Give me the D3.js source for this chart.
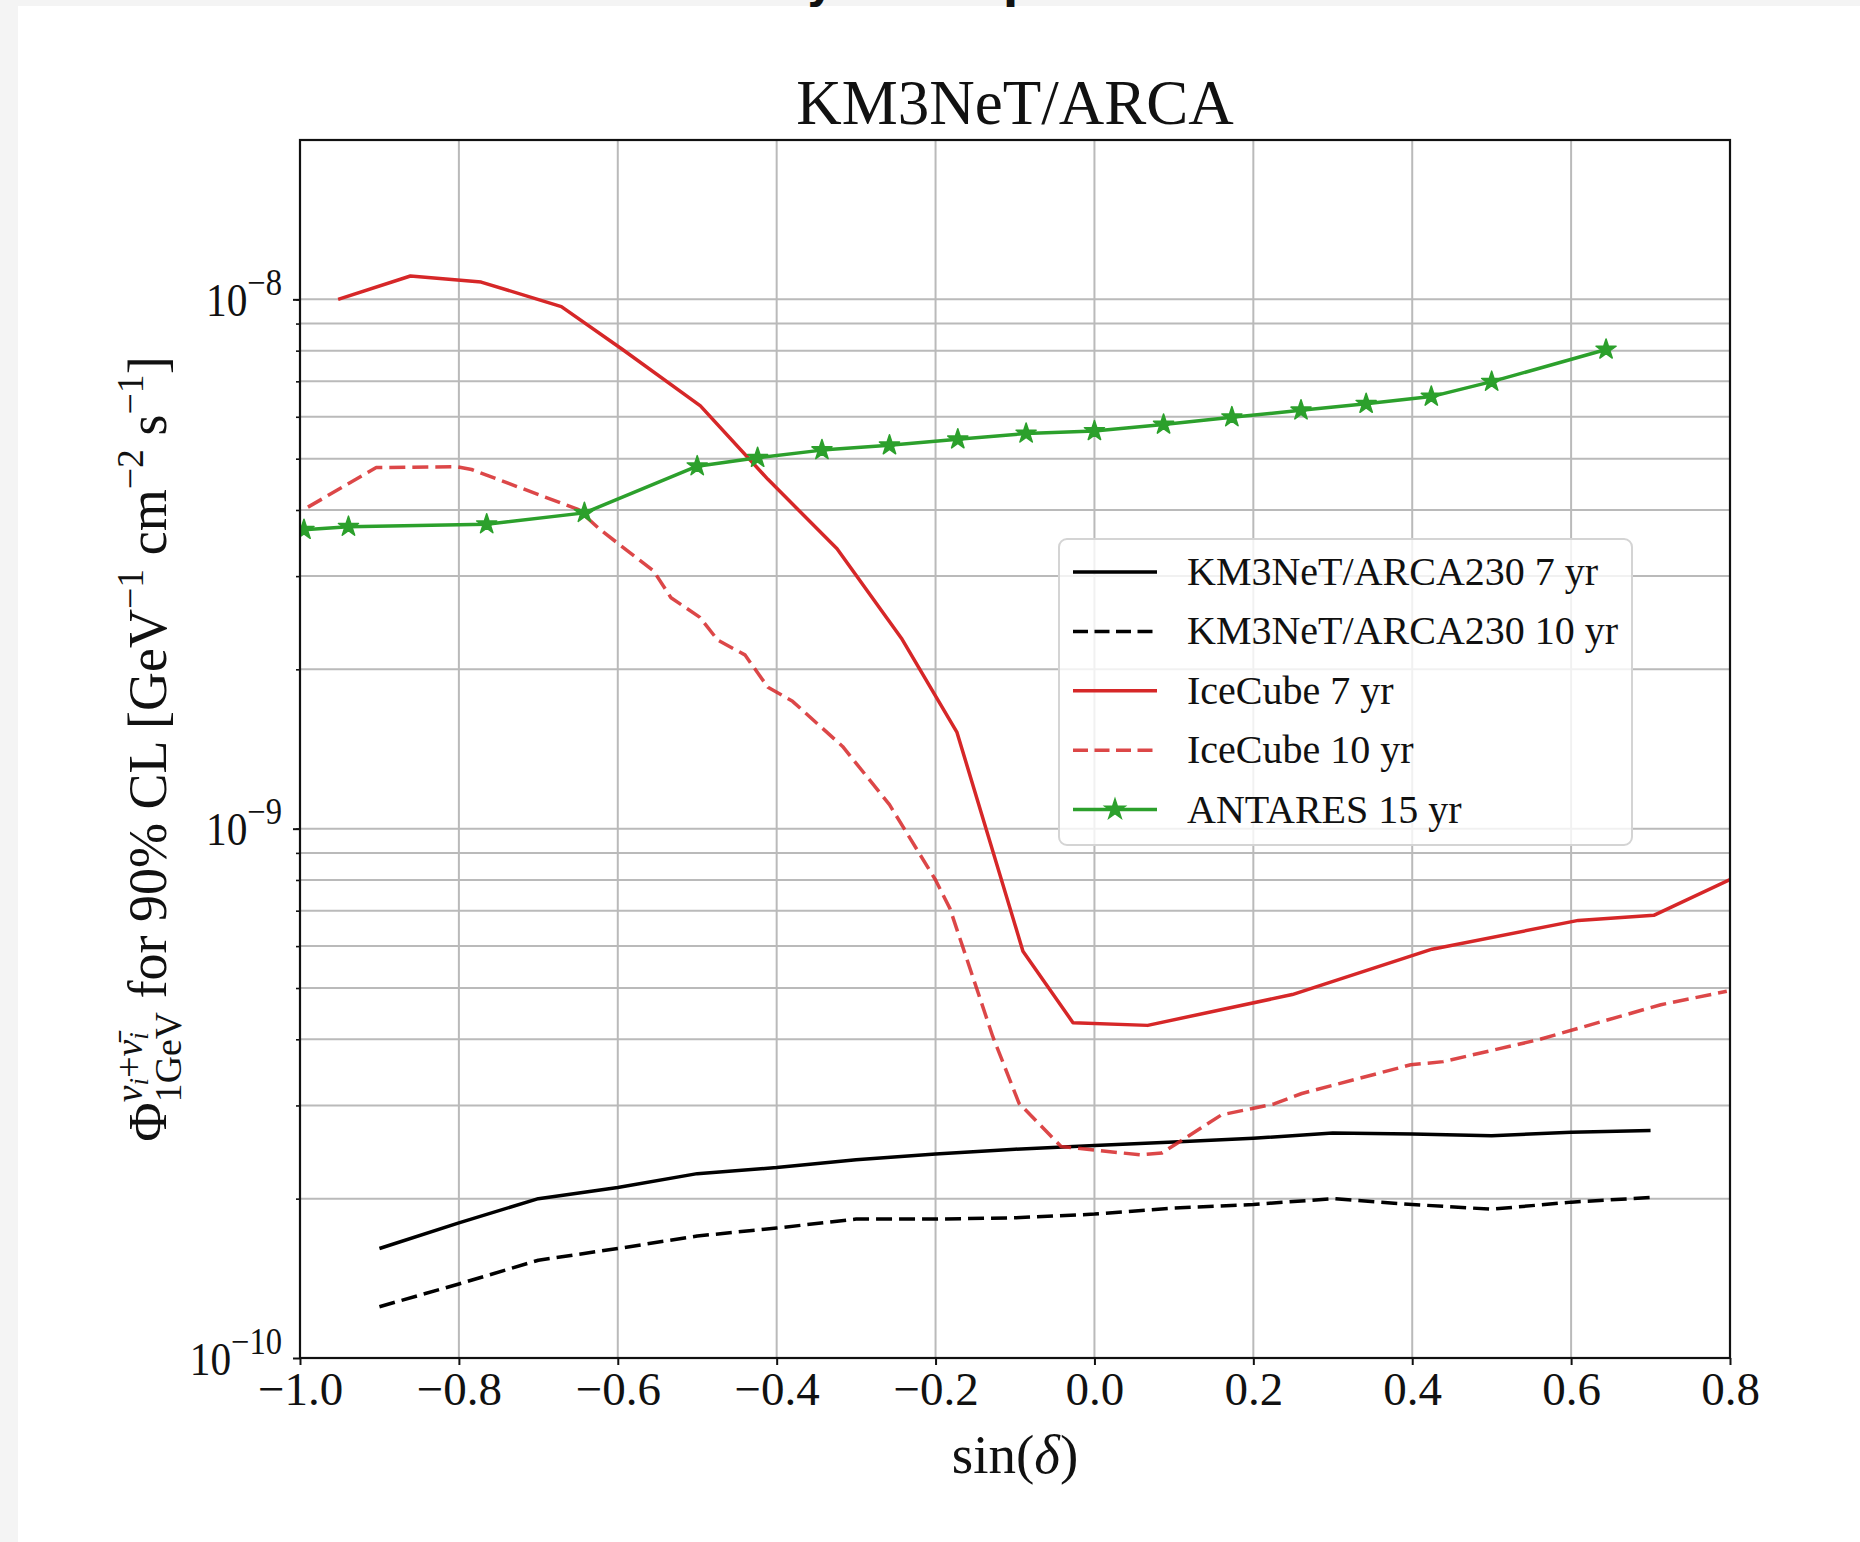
<!DOCTYPE html>
<html>
<head>
<meta charset="utf-8">
<script src="https://cdn.jsdelivr.net/npm/d3@7"></script>
<style>
  body { margin: 0; background: #f4f4f4; }
  svg text { font-family: "Liberation Serif", "Times New Roman", serif; fill: #111; white-space: pre; }
</style>
</head>
<body>
<svg id="chart"></svg>
<script>
// ---- data ----
var xTickValues = [-1.0, -0.8, -0.6, -0.4, -0.2, 0.0, 0.2, 0.4, 0.6, 0.8];
var yTickValues = [1e-10, 1e-9, 1e-8];
var yTickExponents = ["\u221210", "\u22129", "\u22128"];

var km3Sin = [-0.9, -0.8, -0.7, -0.6, -0.5, -0.4, -0.3, -0.2, -0.1, 0.0, 0.1, 0.2, 0.3, 0.4, 0.5, 0.6, 0.7];
var km3Flux7yr = [1.61e-10, 1.80e-10, 2.00e-10, 2.10e-10, 2.23e-10, 2.29e-10, 2.37e-10, 2.43e-10, 2.48e-10,
                  2.52e-10, 2.56e-10, 2.60e-10, 2.66e-10, 2.65e-10, 2.63e-10, 2.67e-10, 2.69e-10];
var km3Flux10yr = [1.25e-10, 1.38e-10, 1.53e-10, 1.61e-10, 1.70e-10, 1.76e-10, 1.83e-10, 1.83e-10, 1.84e-10,
                   1.87e-10, 1.92e-10, 1.95e-10, 2.00e-10, 1.95e-10, 1.91e-10, 1.97e-10, 2.01e-10];

var ic7Sin = [-0.952, -0.861, -0.772, -0.671, -0.594, -0.496, -0.411, -0.324, -0.243, -0.173, -0.090, -0.027,
              0.067, 0.249, 0.425, 0.609, 0.704, 0.800];
var ic7Flux = [1.00e-8, 1.107e-8, 1.078e-8, 9.69e-9, 8.04e-9, 6.29e-9, 4.57e-9, 3.38e-9, 2.29e-9, 1.52e-9,
               5.87e-10, 4.30e-10, 4.25e-10, 4.86e-10, 5.92e-10, 6.71e-10, 6.86e-10, 8.01e-10];

var ic10Sin = [-0.990, -0.904, -0.803, -0.784, -0.650, -0.622, -0.555, -0.533, -0.497, -0.474, -0.440, -0.411,
               -0.380, -0.317, -0.258, -0.200, -0.182, -0.128, -0.095, -0.042, 0.000, 0.058, 0.085, 0.160,
               0.226, 0.261, 0.398, 0.439, 0.558, 0.713, 0.796];
var ic10Flux = [4.05e-9, 4.81e-9, 4.83e-9, 4.77e-9, 4.01e-9, 3.67e-9, 3.07e-9, 2.73e-9, 2.51e-9, 2.27e-9, 2.13e-9,
                1.85e-9, 1.74e-9, 1.43e-9, 1.11e-9, 8.0e-10, 7.07e-10, 4.05e-10, 3.03e-10, 2.51e-10, 2.47e-10,
                2.42e-10, 2.44e-10, 2.88e-10, 3.02e-10, 3.16e-10, 3.58e-10, 3.63e-10, 3.99e-10, 4.65e-10, 4.93e-10];

var antSin = [-0.995, -0.939, -0.765, -0.642, -0.500, -0.424, -0.343, -0.258, -0.172, -0.086, 0.000, 0.087,
              0.173, 0.260, 0.342, 0.424, 0.500, 0.644];
var antFlux = [3.67e-9, 3.72e-9, 3.76e-9, 3.95e-9, 4.84e-9, 5.02e-9, 5.19e-9, 5.30e-9, 5.44e-9, 5.58e-9,
               5.64e-9, 5.80e-9, 5.99e-9, 6.17e-9, 6.35e-9, 6.55e-9, 6.99e-9, 8.04e-9];

var legendLabels = ["KM3NeT/ARCA230 7 yr", "KM3NeT/ARCA230 10 yr", "IceCube 7 yr", "IceCube 10 yr", "ANTARES 15 yr"];

// ---- layout ----
var W = 1860, H = 1542;
var margin = { top: 140, left: 300 },
    width = 1430,
    height = 1218;

var svg = d3.select("#chart").attr("width", W).attr("height", H);

svg.append("rect").attr("width", W).attr("height", H).attr("fill", "#f4f4f4");
svg.append("rect").attr("x", 18).attr("y", 6).attr("width", W - 18).attr("height", H - 6).attr("fill", "#fff");

// cut-off slide text peeking in at the top
svg.append("text").attr("x", 820).attr("y", -2).attr("text-anchor", "middle")
    .style("font-family", "DejaVu Sans").style("font-weight", "bold").style("font-size", "44px").text("y");
svg.append("text").attr("x", 1003).attr("y", -2)
    .style("font-family", "DejaVu Sans").style("font-weight", "bold").style("font-size", "44px").text("p");

var g = svg.append("g").attr("transform", "translate(" + margin.left + "," + margin.top + ")");

var x = d3.scaleLinear().domain([-1, 0.8]).range([0, width]);
var y = d3.scaleLog().domain([1e-10, 2e-8]).range([height, 0]);

var minorTicks = y.ticks().filter(function (d) {
    return d > 1.0001e-10 && d < 1.9999e-8;
});

// grid
var grid = g.append("g").attr("stroke", "#bababa").attr("stroke-width", 2);
grid.selectAll("line.v").data(xTickValues).enter().append("line")
    .attr("x1", function (d) { return x(d); }).attr("x2", function (d) { return x(d); })
    .attr("y1", 0).attr("y2", height);
grid.selectAll("line.h").data(minorTicks).enter().append("line")
    .attr("x1", 0).attr("x2", width)
    .attr("y1", function (d) { return y(d); }).attr("y2", function (d) { return y(d); });

// clip for the data
g.append("clipPath").attr("id", "plotclip").append("rect").attr("width", width).attr("height", height);
var plot = g.append("g").attr("clip-path", "url(#plotclip)");

var series = [
    { sin: km3Sin, flux: km3Flux7yr, color: "#000000", dash: null, op: 1 },
    { sin: km3Sin, flux: km3Flux10yr, color: "#000000", dash: "16,7", op: 1 },
    { sin: ic7Sin, flux: ic7Flux, color: "#d62728", dash: null, op: 1 },
    { sin: ic10Sin, flux: ic10Flux, color: "#d62728", dash: "16,7", op: 0.85 },
    { sin: antSin, flux: antFlux, color: "#2ca02c", dash: null, op: 1, star: true }
];

var line = d3.line()
    .x(function (d) { return x(d[0]); })
    .y(function (d) { return y(d[1]); });

var star = d3.symbol().type(d3.symbolStar).size(125);

series.forEach(function (s) {
    var pts = s.sin.map(function (v, i) { return [v, s.flux[i]]; });
    plot.append("path")
        .attr("d", line(pts))
        .attr("fill", "none")
        .attr("stroke", s.color)
        .attr("stroke-width", 3.5)
        .attr("stroke-linejoin", "round")
        .attr("stroke-dasharray", s.dash)
        .attr("opacity", s.op);
    if (s.star) {
        plot.selectAll(null).data(pts).enter().append("path")
            .attr("d", star)
            .attr("transform", function (d) { return "translate(" + x(d[0]) + "," + y(d[1]) + ")"; })
            .attr("fill", s.color)
            .attr("stroke", s.color)
            .attr("stroke-width", 1.5)
            .attr("stroke-linejoin", "round");
    }
});

// axes
var xAxis = g.append("g").attr("transform", "translate(0," + height + ")")
    .call(d3.axisBottom(x).tickValues(xTickValues).tickSize(7).tickPadding(12).tickFormat(d3.format(".1f")));
xAxis.select(".domain").remove();
xAxis.selectAll(".tick line").attr("stroke", "#111").attr("stroke-width", 2);
xAxis.selectAll(".tick text")
    .attr("y", 47)
    .attr("dy", null)
    .style("font-size", "47px")
    .style("font-family", "Liberation Serif")
    .attr("fill", "#111");

var yMinor = g.append("g").call(d3.axisLeft(y).tickValues(minorTicks).tickSize(4).tickFormat(""));
yMinor.select(".domain").remove();
yMinor.selectAll(".tick line").attr("stroke", "#111").attr("stroke-width", 1.6);

var yAxis = g.append("g").call(d3.axisLeft(y).tickValues(yTickValues).tickSize(7).tickFormat(""));
yAxis.select(".domain").remove();
yAxis.selectAll(".tick line").attr("stroke", "#111").attr("stroke-width", 2);
yAxis.selectAll(".tick").each(function (d, i) {
    var lab = d3.select(this).append("g")
        .attr("transform", "translate(-18,16) scale(0.88,1)")
        .append("text")
        .attr("text-anchor", "end")
        .style("font-size", "47px");
    lab.append("tspan").text("10");
    lab.append("tspan").attr("dy", -21).style("font-size", "37px").text(yTickExponents[i]);
});

// frame
g.append("rect").attr("width", width).attr("height", height)
    .attr("fill", "none").attr("stroke", "#111").attr("stroke-width", 2.2);

// title
svg.append("text").attr("x", margin.left + width / 2).attr("y", 124)
    .attr("text-anchor", "middle").style("font-size", "63px").text("KM3NeT/ARCA");

// x label
var xl = svg.append("text").attr("x", margin.left + width / 2).attr("y", 1473)
    .attr("text-anchor", "middle").style("font-size", "55px");
xl.append("tspan").text("sin(");
xl.append("tspan").style("font-style", "italic").text("\u03b4");
xl.append("tspan").text(")");

// y label, laid out run by run
function placeRuns(parent, runs, x0, base) {
    var cx = x0;
    runs.forEach(function (r) {
        if (r.top) {
            var a = placeRuns(parent, r.top, cx, base);
            var b = placeRuns(parent, r.bot, cx, base);
            cx = Math.max(a, b);
            return;
        }
        var t = parent.append("text")
            .attr("x", cx)
            .attr("y", (r.dy || 0) * base)
            .attr("xml:space", "preserve")
            .style("font-size", (r.s || 1) * base + "px")
            .style("font-style", r.i ? "italic" : "normal")
            .text(r.t);
        cx += t.node().getComputedTextLength();
    });
    return cx;
}

var yLabelRuns = [
    { t: "\u03a6" },
    { top: [{ t: "\u03bd", s: 0.7, dy: -0.45, i: 1 }, { t: "i", s: 0.5, dy: -0.33, i: 1 },
            { t: "+", s: 0.7, dy: -0.45 },
            { t: "\u03bd\u0304", s: 0.7, dy: -0.45, i: 1 }, { t: "i", s: 0.5, dy: -0.33, i: 1 }],
      bot: [{ t: "1GeV", s: 0.7, dy: 0.28 }] },
    { t: " for 90% CL [GeV" },
    { t: "\u22121", s: 0.7, dy: -0.42 },
    { t: " cm" },
    { t: "\u22122", s: 0.7, dy: -0.42 },
    { t: " s" },
    { t: "\u22121", s: 0.7, dy: -0.42 },
    { t: "]" }
];

var yl = svg.append("g").attr("transform", "translate(166," + (margin.top + height / 2) + ") rotate(-90)");
var ylInner = yl.append("g");
var ylWidth = placeRuns(ylInner, yLabelRuns, 0, 54);
ylInner.attr("transform", "translate(" + (-ylWidth / 2) + ",0)");

// legend
var lg = svg.append("g");
lg.append("rect").attr("x", 1059).attr("y", 539).attr("width", 573).attr("height", 306)
    .attr("rx", 8).attr("fill", "#fff").attr("fill-opacity", 0.8)
    .attr("stroke", "#d4d4d4").attr("stroke-width", 2);

legendLabels.forEach(function (label, i) {
    var s = series[i];
    var cy = 572 + i * 59.4;
    lg.append("line").attr("x1", 1073).attr("x2", 1157).attr("y1", cy).attr("y2", cy)
        .attr("stroke", s.color).attr("stroke-width", 3.5)
        .attr("stroke-dasharray", s.dash ? "15,6.5" : null)
        .attr("opacity", s.op);
    if (s.star) {
        lg.append("path").attr("d", star).attr("transform", "translate(1115," + cy + ")")
            .attr("fill", s.color).attr("stroke", s.color).attr("stroke-width", 1.5);
    }
    lg.append("text").attr("x", 1187).attr("y", cy + 13).style("font-size", "40px").text(label);
});
</script>
</body>
</html>
